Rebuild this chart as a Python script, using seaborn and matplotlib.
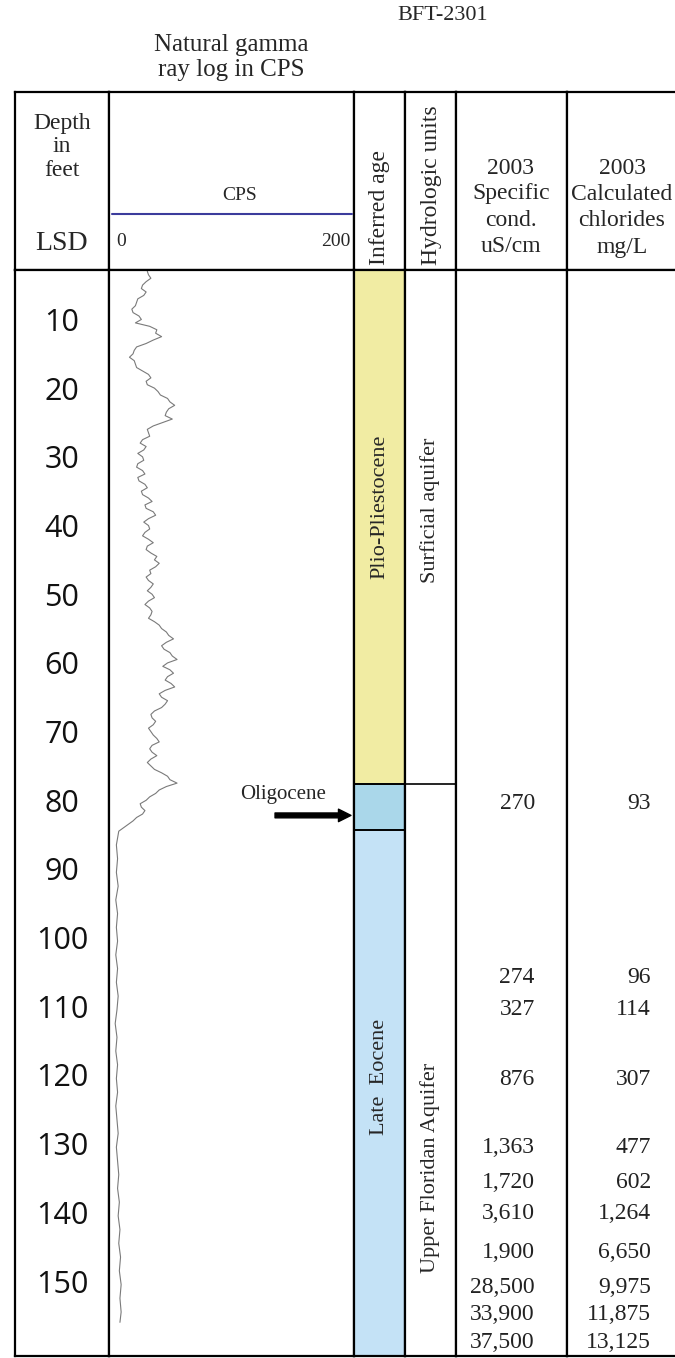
import numpy as np
import pandas as pd
import matplotlib
matplotlib.use('Agg')
import matplotlib.pyplot as plt
import matplotlib.transforms as mtransforms
import seaborn as sns

# gamma log (counts per second)
# upper part sampled every half foot from 2.5 to 84 ft
upper_cps = [28, 29, 31, 27, 24, 23, 27, 25, 20, 19,
             18, 15, 16, 21, 23, 18, 30, 36, 35, 40,
             33, 27, 19, 17, 16, 13, 17, 18, 19, 24,
             29, 31, 27, 28, 34, 37, 39, 45, 47, 51,
             46, 44, 43, 49, 41, 33, 28, 29, 30, 24,
             22, 27, 25, 20, 24, 25, 20, 19, 24, 26,
             20, 21, 26, 28, 23, 24, 29, 32, 26, 27,
             33, 35, 29, 25, 29, 30, 26, 24, 29, 33,
             28, 27, 31, 36, 34, 38, 35, 30, 31, 27,
             29, 33, 31, 28, 32, 34, 29, 26, 30, 32,
             31, 29, 34, 38, 40, 44, 46, 50, 44, 40,
             42, 47, 49, 53, 45, 41, 47, 50, 45, 43,
             48, 51, 43, 38, 40, 45, 43, 40, 34, 31,
             32, 35, 33, 29, 31, 33, 36, 38, 32, 30,
             32, 36, 31, 28, 31, 34, 40, 45, 47, 53,
             44, 38, 35, 30, 27, 22, 23, 26, 24, 19,
             16, 12, 8, 4]
lower_depth = [86, 88, 90, 92, 94, 96, 98, 100, 102, 104, 106, 108, 110, 112, 114,
               116, 118, 120, 122, 124, 126, 128, 130, 132, 134, 136, 138, 140, 142,
               144, 146, 148, 150, 152, 154, 155.5]
lower_cps = [2, 3, 2, 3.5, 1.5, 3, 2, 3, 1.5, 3, 2, 3.5, 2.5, 1, 2.5,
             1.5, 3, 2, 3, 1.5, 2.5, 3.5, 2, 3, 4, 3, 4.5, 3.5, 5,
             4, 5.5, 4.5, 6, 5, 6, 5]

depth_ticks = [10, 20, 30, 40, 50, 60, 70, 80, 90, 100, 110, 120, 130, 140, 150]

# inferred age units (top, bottom in feet)
age_names = ['Plio-Pliestocene', 'Oligocene', 'Late  Eocene']
age_top = [2.3, 77.1, 83.8]
age_bot = [77.1, 83.8, 160.4]
age_colors = ['#f1eca3', '#aad7ea', '#c4e2f6']
age_label_depth = [36.8, 81.7, 119.8]

hydro_names = ['Surficial aquifer', 'Upper Floridan Aquifer']
hydro_top = [2.3, 77.1]
hydro_bot = [77.1, 160.4]
hydro_label_depth = [37.3, 133.0]

# 2003 water samples
sample_depth = [80, 105.3, 110, 120.2, 130, 135.2, 139.6, 145.3, 150.4, 154.4, 158.4]
spec_cond = ['270', '274', '327', '876', '1,363', '1,720', '3,610', '1,900',
             '28,500', '33,900', '37,500']
chlorides = ['93', '96', '114', '307', '477', '602', '1,264', '6,650',
             '9,975', '11,875', '13,125']

sns.set_style('white')
plt.rcParams['font.family'] = ['Liberation Serif', 'DejaVu Serif']

W, H = 675, 1358
fig = plt.figure(figsize=(W / 100, H / 100), dpi=100)


def px(x, y):
    return x / W, 1 - y / H


def box(x0, y0, x1, y1):
    return [x0 / W, 1 - y1 / H, (x1 - x0) / W, (y1 - y0) / H]


edges = [15, 109, 354, 405, 456, 567, 677]
head_top, head_bot, data_bot = 92, 270, 1356
d_top, d_bot = age_top[0], age_bot[-1]

# header cells
for i in range(6):
    hax = fig.add_axes(box(edges[i], head_top, edges[i + 1], head_bot))
    hax.set_xticks([])
    hax.set_yticks([])
    for s in hax.spines.values():
        s.set_color('black')
        s.set_linewidth(1.6)
    hax.spines['right'].set_visible(i < 5)

# data cells
axes = []
for i in range(6):
    ax = fig.add_axes(box(edges[i], head_bot, edges[i + 1], data_bot),
                      sharey=axes[0] if axes else None)
    ax.set_xticks([])
    ax.set_yticks([])
    for s in ax.spines.values():
        s.set_color('black')
        s.set_linewidth(1.6)
    ax.spines['right'].set_visible(i < 5)
    axes.append(ax)
ax_depth, ax_gamma, ax_age, ax_hydro, ax_spec, ax_chl = axes
ax_depth.set_ylim(d_bot, d_top)
ax_depth.set_yticks([])

# depth labels
tr = mtransforms.blended_transform_factory(ax_depth.transAxes, ax_depth.transData)
for d in depth_ticks:
    ax_depth.text(0.5, d, str(d), transform=tr, ha='center', va='center',
                  fontsize=22, family=['Open Sans', 'DejaVu Sans'], color='#111111')

# gamma log
gamma_depth = np.concatenate([np.arange(2.5, 84.01, 0.5), lower_depth])
gamma_cps = np.concatenate([upper_cps, lower_cps])
df = pd.DataFrame({'depth': gamma_depth, 'cps': gamma_cps})
sns.lineplot(data=df, x='cps', y='depth', orient='y', sort=False,
             color='#7a7a7a', lw=0.8, ax=ax_gamma)
ax_gamma.set_xlim(-4.2, 201.7)
ax_gamma.set_ylim(d_bot, d_top)
ax_gamma.set_xlabel('')
ax_gamma.set_ylabel('')
ax_gamma.set_xticks([])
ax_gamma.set_yticks([])
ax_gamma.text(142, 78.6, age_names[1], ha='center', va='center', fontsize=15)
ax_gamma.annotate('', xy=(201.5, age_label_depth[1]), xytext=(133, age_label_depth[1]),
                  arrowprops=dict(arrowstyle='simple,head_length=0.9,head_width=0.9,tail_width=0.35',
                                  color='black'))

# inferred age column
ax_age.set_xlim(0, 1)
for top, bot, c in zip(age_top, age_bot, age_colors):
    ax_age.axhspan(top, bot, color=c, lw=0)
ax_age.axhline(age_bot[0], color='black', lw=1.4)
ax_age.axhline(age_bot[1], color='black', lw=1.4)
for i in (0, 2):
    ax_age.text(0.5, age_label_depth[i], age_names[i], rotation=90, ha='center',
                va='center', fontsize=16)

# hydrologic units column
ax_hydro.set_xlim(0, 1)
ax_hydro.axhline(hydro_bot[0], color='black', lw=1.2)
for name, d in zip(hydro_names, hydro_label_depth):
    ax_hydro.text(0.5, d, name, rotation=90, ha='center', va='center', fontsize=16)

# sample values
for ax, vals, xr in ((ax_spec, spec_cond, 0.71), (ax_chl, chlorides, 0.765)):
    trv = mtransforms.blended_transform_factory(ax.transAxes, ax.transData)
    for d, v in zip(sample_depth, vals):
        ax.text(xr, d, v, transform=trv, ha='right', va='center', fontsize=17,
                color='#222222')

# header text
fig.text(*px(443, 16), 'BFT-2301', ha='center', va='center', fontsize=16)
fig.text(*px(231, 45), 'Natural gamma', ha='center', va='center', fontsize=18)
fig.text(*px(231, 70), 'ray log in CPS', ha='center', va='center', fontsize=18)
for txt, y in zip(['Depth', 'in', 'feet'], [123, 147, 170]):
    fig.text(*px(62, y), txt, ha='center', va='center', fontsize=17)
fig.text(*px(62, 243), 'LSD', ha='center', va='center', fontsize=20)
fig.text(*px(240, 196), 'CPS', ha='center', va='center', fontsize=14)
fig.add_artist(plt.Line2D([112 / W, 352 / W], [1 - 214 / H, 1 - 214 / H],
                          color='#3c3c9c', lw=1.5))
fig.text(*px(116, 241), '0', ha='left', va='center', fontsize=14)
fig.text(*px(350, 241), '200', ha='right', va='center', fontsize=14)
fig.text(*px(380, 265), 'Inferred age', rotation=90, ha='center', va='bottom', fontsize=17)
fig.text(*px(431, 265), 'Hydrologic units', rotation=90, ha='center', va='bottom', fontsize=17)
for txt, y in zip(['2003', 'Specific', 'cond.', 'uS/cm'], [168, 194, 220, 247]):
    fig.text(*px(511, y), txt, ha='center', va='center', fontsize=17)
for txt, y in zip(['2003', 'Calculated', 'chlorides', 'mg/L'], [168, 194, 220, 247]):
    fig.text(*px(622, y), txt, ha='center', va='center', fontsize=17)

fig.savefig('out.png', dpi=100, facecolor='white')
